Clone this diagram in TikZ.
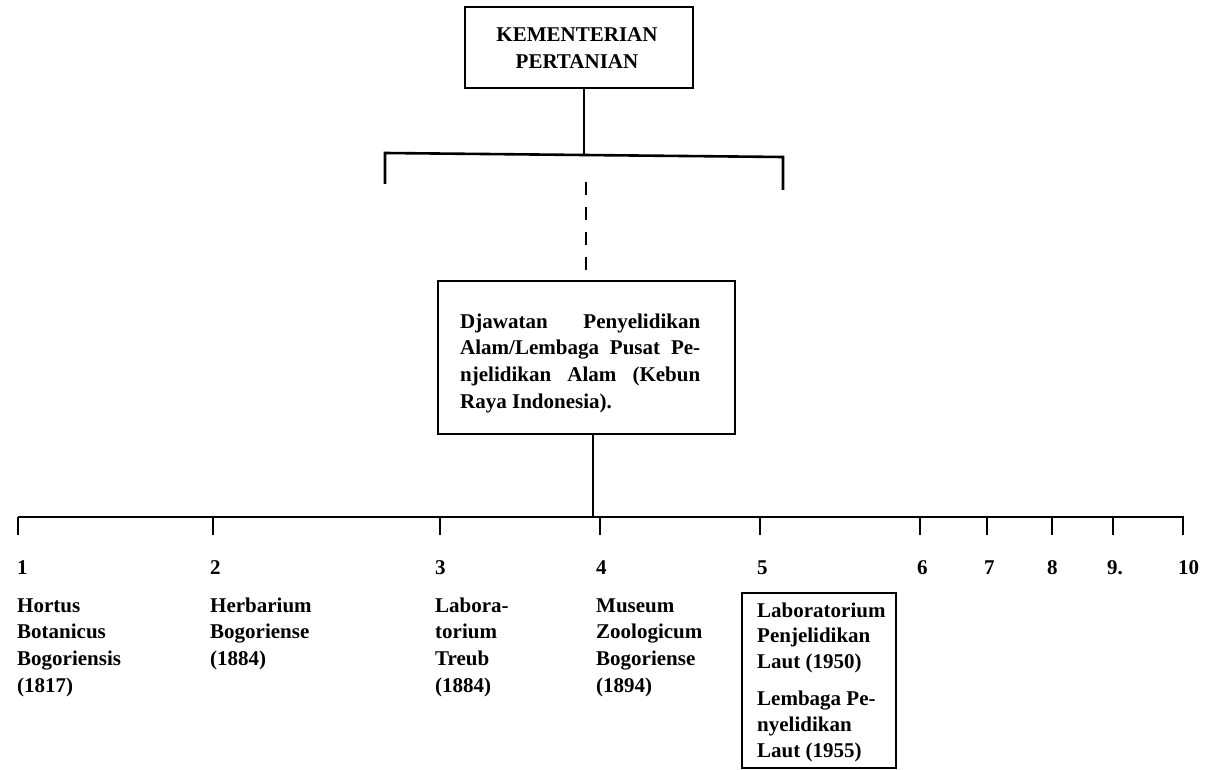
\documentclass[tikz,border=0pt]{standalone}
\usepackage{fontspec}
\setmainfont{Liberation Serif}
\begin{document}
\begin{tikzpicture}[x=1pt,y=-1pt,
  box/.style={draw, line width=2pt, inner sep=0pt},
  txt/.style={inner sep=0pt, font=\fontsize{21}{26.7}\selectfont\bfseries},
  num/.style={inner sep=0pt, anchor=base west, font=\fontsize{21}{26.7}\selectfont\bfseries},
  conn/.style={line width=2pt},
  tickline/.style={line width=2.6pt},
  dashconn/.style={line width=2.6pt, dash pattern=on 13pt off 12pt}]
\useasboundingbox (0,0) rectangle (1210,770);

% top box
\node[box, minimum width=228pt, minimum height=81pt] (top) at (579,47.5) {};
\node[txt, anchor=base] (toptext) at (577,42)
  {\begin{tabular}[t]{@{}c@{}}KEMENTERIAN\\PERTANIAN\end{tabular}};

% bracket
\coordinate (bj) at (584,155);
\coordinate (bl) at (385,153);
\coordinate (br) at (783,157);
\coordinate (bll) at (385,184);
\coordinate (brl) at (783,190);
\draw[conn] (top.south -| bj) -- (bj);
\draw[conn, line width=2.6pt] (bll) -- (bl) -- (br) -- (brl);

% dashed link
\coordinate (dtop) at (586,182);
\coordinate (dbot) at (586,270);
\draw[dashconn] (dtop) -- (dbot);

% middle box
\node[box, minimum width=297pt, minimum height=153pt] (mid) at (586.5,357.5) {};
\node[txt, anchor=base west] (midtext) at (460,328)
  {\parbox[t]{240pt}{\fontsize{21}{26.7}\selectfont
   \makebox[240pt][s]{Djawatan Penyelidikan}\\
   \makebox[240pt][s]{Alam/Lembaga Pusat Pe-}\\
   \makebox[240pt][s]{njelidikan Alam (Kebun}\\
   \makebox[240pt][l]{Raya Indonesia).}}};

% main line
\coordinate (mj) at (593,517);
\draw[conn] (mid.south -| mj) -- (mj);
\coordinate (m1) at (18,517);
\coordinate (m10) at (1184,517);
\draw[conn, line width=1.8pt] (m1) -- (m10);
\foreach \i/\x in {1/18,2/213,3/440,4/600,5/760,6/920,7/987,8/1052,9/1113,10/1183}{
  \coordinate (t\i) at (\x,517);
  \coordinate (e\i) at (\x,535);
  \draw[tickline] (t\i) -- (e\i);
}

% numbers
\node[num] (n1) at (17,574) {1};
\node[num] (n2) at (210,574) {2};
\node[num] (n3) at (435,574) {3};
\node[num] (n4) at (596,574) {4};
\node[num] (n5) at (757,574) {5};
\node[num] (n6) at (917,574) {6};
\node[num] (n7) at (984,574) {7};
\node[num] (n8) at (1047,574) {8};
\node[num] (n9) at (1107,574) {9.};
\node[num] (n10) at (1178,574) {10};

% column texts
\node[num] (c1) at (17,612) {\parbox[t]{150pt}{\raggedright Hortus\\Botanicus\\Bogoriensis\\(1817)}};
\node[num] (c2) at (210,612) {\parbox[t]{150pt}{\raggedright Herbarium\\Bogoriense\\(1884)}};
\node[num] (c3) at (435,612) {\parbox[t]{150pt}{\raggedright Labora-\\torium\\Treub\\(1884)}};
\node[num] (c4) at (596,612) {\parbox[t]{150pt}{\raggedright Museum\\Zoologicum\\Bogoriense\\(1894)}};

% box 5
\node[box, minimum width=154pt, minimum height=175pt, anchor=north west] (b5) at (741,592) {};
\node[num] (c5) at (757,617) {\parbox[t]{140pt}{\raggedright\fontsize{21}{25.8}\selectfont Laboratorium\\Penjelidikan\\Laut (1950)\\[11pt]Lembaga Pe-\\nyelidikan\\Laut (1955)}};
\end{tikzpicture}
\end{document}
